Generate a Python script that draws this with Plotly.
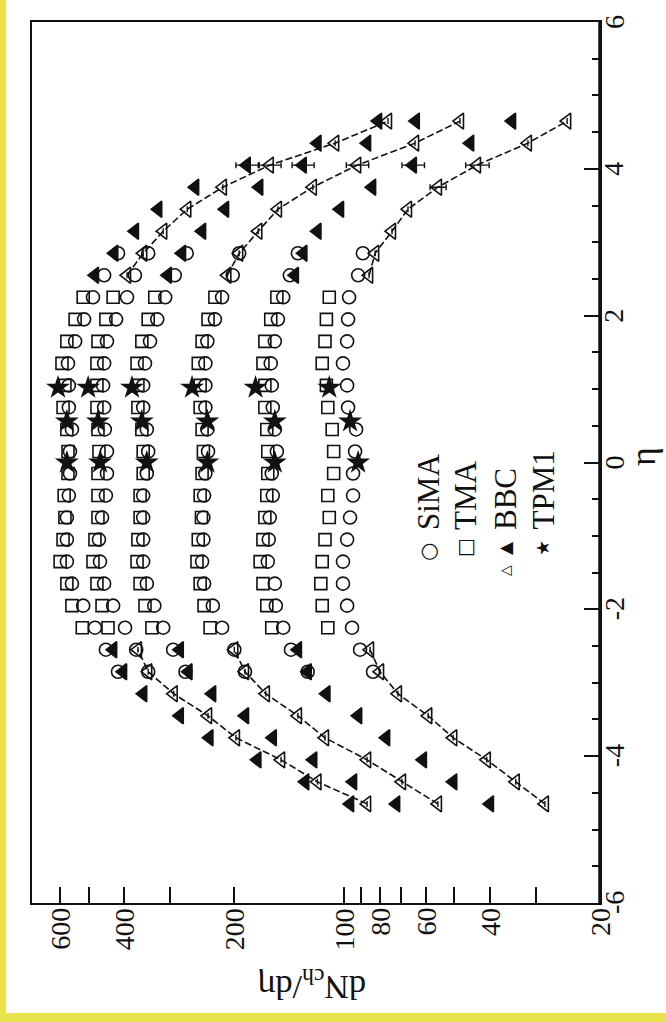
import math
import plotly.graph_objects as go

# ---- pseudorapidity bins ----
ETA_MID = [-2.25, -1.95, -1.65, -1.35, -1.05, -0.75, -0.45, -0.15,
           0.15, 0.45, 0.75, 1.05, 1.35, 1.65, 1.95, 2.25]
ETA_SIMA_FWD_NEG = [-2.85, -2.55]
ETA_SIMA_FWD_POS = [2.55, 2.85]
ETA_BBC_NEG = [-4.65, -4.35, -4.05, -3.75, -3.45, -3.15, -2.85, -2.55]
ETA_BBC_POS = [2.55, 2.85, 3.15, 3.45, 3.75, 4.05, 4.35, 4.65]
ETA_TPM1 = [0.0, 0.56, 1.02]

# ---- SiMA (|eta| < 2.3 part, then forward points -2.85,-2.55 / 2.55,2.85) ----
sima_0_5 = [481, 518, 556, 574, 574, 574, 567, 563, 563, 556, 567, 567, 570, 545, 515, 487]
sima_5_10 = [398, 429, 454, 466, 469, 460, 449, 446, 446, 452, 454, 457, 454, 446, 421, 393]
sima_10_20 = [313, 331, 347, 355, 355, 355, 355, 347, 344, 347, 355, 355, 351, 340, 325, 309]
sima_20_30 = [216, 229, 242, 245, 243, 243, 242, 240, 236, 237, 240, 240, 240, 237, 226, 216]
sima_30_40 = [147, 154, 155, 162, 161, 160, 157, 158, 153, 155, 157, 158, 159, 155, 152, 147]
sima_40_50 = [95.3, 98.3, 100.9, 100.9, 98.3, 96.5, 94.7, 94.7, 93.5, 92.9, 97.7, 98.3, 100.9, 98.3, 97.7, 97.1]

sima_fwd_0_5 = [416, 449, 454, 416]
sima_fwd_5_10 = [344, 371, 374, 344]
sima_fwd_10_20 = [272, 294, 291, 270]
sima_fwd_20_30 = [187, 200, 202, 194]
sima_fwd_30_40 = [126, 140, 141, 134]
sima_fwd_40_50 = [83.5, 90.6, 91.7, 89.0]

# ---- TMA ----
tma_0_5 = [521, 556, 574, 599, 588, 581, 584, 570, 570, 574, 588, 581, 592, 574, 545, 518]
tma_5_10 = [443, 460, 475, 487, 481, 472, 472, 472, 469, 472, 475, 475, 475, 472, 449, 429]
tma_10_20 = [336, 351, 362, 369, 367, 362, 362, 355, 355, 358, 367, 367, 369, 358, 344, 330]
tma_20_30 = [233, 242, 248, 253, 251, 246, 248, 245, 243, 245, 248, 248, 251, 245, 236, 226]
tma_30_40 = [158, 163, 167, 170, 167, 165, 163, 162, 162, 163, 165, 165, 167, 165, 159, 153]
tma_40_50 = [111, 115, 116, 115, 113, 110, 111, 107, 107, 108, 111, 112, 115, 113, 112, 110]

# ---- BBC (negative side from -4.65, positive side from 2.55) ----
bbc_neg_0_5 = [96.5, 128, 173, 234, 282, 355, 403, 429]
bbc_pos_0_5 = [481, 426, 374, 323, 256, 185, 118.5, 80.9]
bbc_neg_5_10 = [86.7, 118.5, 149, 198, 236, 293, 344, 367]
bbc_pos_5_10 = [393, 355, 313, 269, 215, 160, 106, 76]
bbc_neg_10_20 = [72.2, 94.7, 121.7, 157, 187, 230, 267, 282]
bbc_pos_10_20 = [304, 278, 245, 212, 171, 130, 86.7, 63.8]
bbc_neg_20_30 = [55.5, 69.6, 86.7, 113, 134, 164, 187, 200]
bbc_pos_20_30 = [209, 194, 172, 152, 122, 92.3, 64.1, 48.3]
bbc_neg_30_40 = [40.0, 50.4, 61.0, 76.9, 91.7, 112, 126, 134]
bbc_pos_30_40 = [136.6, 129.5, 118.5, 102.8, 84.0, 65.0, 45.3, 34.8]
bbc_neg_40_50 = [28.3, 34.0, 40.8, 50.4, 59.0, 71.4, 79.9, 85.1]
bbc_pos_40_50 = [85.6, 82.4, 74.1, 67.0, 55.5, 43.4, 31.5, 24.6]

# errors on the positive side (eta = 4.05, one at 3.75 for 40-50%)
bbc_err_405 = [13, 11, 9, 6.5, 4.6, 3.2]
bbc_err_375_40_50 = 2.8

# ---- TPM1 (eta = 0, 0.56, 1.02) ----
tpm1_0_5 = [574, 574, 607]
tpm1_5_10 = [466, 472, 502]
tpm1_10_20 = [347, 358, 381]
tpm1_20_30 = [237, 237, 261]
tpm1_30_40 = [155, 155, 175]
tpm1_40_50 = [91.7, 96.5, 110]

# axis ticks and their labels
x_tickvals = [20, 30, 40, 50, 60, 70, 80, 90, 100, 200, 300, 400, 500, 600]
x_labelvals = [20, 40, 60, 80, 100, 200, 400, 600]
x_labeltext = ["20", "40", "60", "80", "100", "200", "400", "600"]
y_tickvals = [-6, -4, -2, 0, 2, 4, 6]
y_ticktext = ["-6", "-4", "-2", "0", "2", "4", "6"]
X_MIN, X_MAX = 20, 715

INK = "#111111"
SERIF = "Liberation Serif"

fig = go.Figure()

sima_sets = [(sima_0_5, sima_fwd_0_5), (sima_5_10, sima_fwd_5_10), (sima_10_20, sima_fwd_10_20),
             (sima_20_30, sima_fwd_20_30), (sima_30_40, sima_fwd_30_40), (sima_40_50, sima_fwd_40_50)]
tma_sets = [tma_0_5, tma_5_10, tma_10_20, tma_20_30, tma_30_40, tma_40_50]
bbc_sets = [(bbc_neg_0_5, bbc_pos_0_5), (bbc_neg_5_10, bbc_pos_5_10), (bbc_neg_10_20, bbc_pos_10_20),
            (bbc_neg_20_30, bbc_pos_20_30), (bbc_neg_30_40, bbc_pos_30_40), (bbc_neg_40_50, bbc_pos_40_50)]
tpm1_sets = [tpm1_0_5, tpm1_5_10, tpm1_10_20, tpm1_20_30, tpm1_30_40, tpm1_40_50]

# TMA: open squares
for vals in tma_sets:
    fig.add_trace(go.Scatter(x=vals, y=ETA_MID, mode="markers",
                             marker=dict(symbol="square-open", size=12, color=INK, line=dict(width=1.6, color=INK)),
                             showlegend=False))

# SiMA: open circles
for mid, fwd in sima_sets:
    xs = fwd[:2] + mid + fwd[2:]
    ys = ETA_SIMA_FWD_NEG + ETA_MID + ETA_SIMA_FWD_POS
    fig.add_trace(go.Scatter(x=xs, y=ys, mode="markers",
                             marker=dict(symbol="circle-open", size=13, color=INK, line=dict(width=1.6, color=INK)),
                             showlegend=False))

# BBC: filled triangles for 0-5, 10-20, 30-40 %; open triangles joined by dashes for the others
for i, (neg, pos) in enumerate(bbc_sets):
    err_plus = [None] * len(neg) + [None] + [None] * len(pos)
    err_plus[len(neg) + 1 + ETA_BBC_POS.index(4.05)] = bbc_err_405[i]
    if i == 5:
        err_plus[len(neg) + 1 + ETA_BBC_POS.index(3.75)] = bbc_err_375_40_50
    xs = neg + [None] + pos
    ys = ETA_BBC_NEG + [None] + ETA_BBC_POS
    filled = (i % 2 == 0)
    fig.add_trace(go.Scatter(
        x=xs, y=ys,
        mode="markers" if filled else "lines+markers",
        connectgaps=False,
        line=dict(color=INK, width=1.6, dash="7px,3px"),
        marker=dict(symbol="triangle-left" if filled else "triangle-left-open",
                    size=14, color=INK, line=dict(width=1.6, color=INK)),
        error_x=dict(type="data", array=err_plus, symmetric=True, color=INK, thickness=1.4, width=3),
        showlegend=False))

# TPM1: stars
for vals in tpm1_sets:
    fig.add_trace(go.Scatter(x=vals, y=ETA_TPM1, mode="markers",
                             marker=dict(symbol="star", size=18, color=INK, line=dict(width=0)),
                             showlegend=False))

# plot-area geometry (pixels) used to place the rotated texts
W, H = 666, 1022
PL, PR, PT, PB = 32, 600, 22, 903


def px(x):
    return (x - PL) / (PR - PL)


def py(y):
    return (PB - y) / (PB - PT)


annotations = []
# sideways tick labels: dN/deta along the bottom, eta along the right
for v, t in zip(x_labelvals, x_labeltext):
    annotations.append(dict(text=t, x=math.log10(v), y=py(906), xref="x", yref="paper",
                            xanchor="center", yanchor="top", textangle=-90, showarrow=False,
                            font=dict(family=SERIF, size=28, color=INK)))
for v, t in zip(y_tickvals, y_ticktext):
    annotations.append(dict(text=t, x=px(614), y=v, xref="paper", yref="y",
                            xanchor="center", yanchor="middle", textangle=-90, showarrow=False,
                            font=dict(family=SERIF, size=28, color=INK)))

# legend, written sideways
legend_items = [("SiMA", 428), ("TMA", 465), ("BBC", 505), ("TPM1", 543)]
for label, cx in legend_items:
    annotations.append(dict(text=label, x=px(cx), y=py(532), xref="paper", yref="paper",
                            xanchor="center", yanchor="bottom", textangle=-90, showarrow=False,
                            font=dict(family=SERIF, size=31, color=INK)))
legend_keys = [("○", 428, 552, 21), ("□", 465, 548, 20), ("▲", 505, 548, 17), ("△", 505, 570, 14), ("★", 543, 548, 18)]
for glyph, cx, cy, fs in legend_keys:
    annotations.append(dict(text=glyph, x=px(cx), y=py(cy), xref="paper", yref="paper",
                            xanchor="center", yanchor="middle", textangle=-90, showarrow=False,
                            font=dict(family="DejaVu Sans", size=fs, color=INK)))

# axis titles
annotations.append(dict(text="dN<sub>ch</sub>/dη", x=px(312), y=py(985), xref="paper", yref="paper",
                        xanchor="center", yanchor="middle", textangle=180, showarrow=False,
                        font=dict(family=SERIF, size=34, color=INK)))
annotations.append(dict(text="η", x=px(643), y=py(457), xref="paper", yref="paper",
                        xanchor="center", yanchor="middle", textangle=-90, showarrow=False,
                        font=dict(family=SERIF, size=36, color=INK)))

YELLOW = "#E8E34B"
shapes = [
    # yellow page edges
    dict(type="rect", xref="paper", yref="paper", x0=px(0), x1=px(6), y0=py(H), y1=py(0),
         fillcolor=YELLOW, line=dict(width=0), layer="below"),
    dict(type="rect", xref="paper", yref="paper", x0=px(0), x1=px(W), y0=py(H), y1=py(1013),
         fillcolor=YELLOW, line=dict(width=0), layer="below"),
    # longer tick at 100
    dict(type="line", xref="x", yref="paper", x0=math.log10(100), x1=math.log10(100), y0=0, y1=33 / (PB - PT),
         line=dict(color=INK, width=1.5)),
    # heavier right-hand frame line
    dict(type="line", xref="paper", yref="paper", x0=1, x1=1, y0=0, y1=1,
         line=dict(color=INK, width=3.5)),
]

fig.update_layout(
    width=W, height=H,
    margin=dict(l=PL, r=W - PR, t=PT, b=H - PB),
    paper_bgcolor="white", plot_bgcolor="white",
    font=dict(family=SERIF, size=28, color=INK),
    showlegend=False,
    annotations=annotations,
    shapes=shapes,
    xaxis=dict(type="log", range=[math.log10(X_MAX), math.log10(X_MIN)],
               showline=True, linecolor=INK, linewidth=2, mirror=True,
               ticks="inside", ticklen=16, tickwidth=1.5, tickcolor=INK,
               tickmode="array", tickvals=x_tickvals, showticklabels=False,
               showgrid=False, zeroline=False),
    yaxis=dict(range=[-6, 6], side="right",
               showline=True, linecolor=INK, linewidth=2, mirror=True,
               ticks="inside", ticklen=16, tickwidth=1.5, tickcolor=INK,
               tickmode="array", tickvals=y_tickvals, showticklabels=False,
               minor=dict(tickmode="linear", tick0=-6, dtick=0.5, ticks="inside",
                          ticklen=8, tickwidth=1.5, tickcolor=INK),
               showgrid=False, zeroline=False),
)

fig.write_html("out.html")
